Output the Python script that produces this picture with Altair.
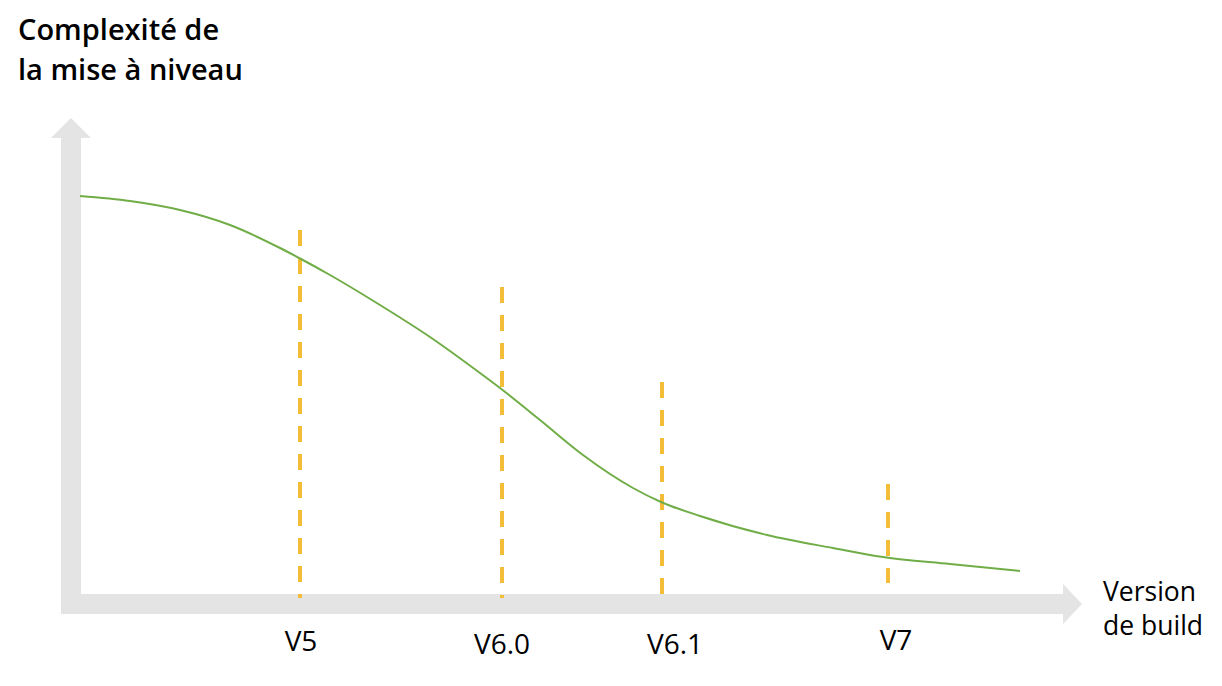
import altair as alt
import pandas as pd

# Conceptual units: u = horizontal position from origin, v = complexity above the axis
curve_u = [9, 59, 109, 159, 209, 230, 259, 309, 359, 409, 429, 469, 512, 562, 590, 629, 696, 762, 812, 879, 949]
curve_v = [408, 403, 394, 379, 356, 345, 329, 299, 267, 231, 216, 184, 149, 116, 102, 88, 69, 56, 47, 40, 33]

versions = ["V5", "V6.0", "V6.1", "V7"]
version_u = [229, 431, 591, 817]
version_top = [374, 317, 222, 120]
version_bottom = [6, 6, 6, 21]
label_u = [230, 431, 604, 825]
label_v = [-39, -42, -42, -38]

y_title = ["Complexité de", "la mise à niveau"]
y_title_v = [564, 524]
x_title = ["Version", "de build"]
x_title_v = [3, -31]

X_DOMAIN = [-63, 1143]
Y_DOMAIN = [-74, 596]
xs = alt.Scale(domain=X_DOMAIN, nice=False, zero=False)
ys = alt.Scale(domain=Y_DOMAIN, nice=False, zero=False)

GRAY = "#e4e4e4"

# axis shafts
shafts = pd.DataFrame({"u": [0, -10], "v": [-10, 0], "u2": [0, 992], "v2": [466, 0]})
shaft = alt.Chart(shafts).mark_rule(color=GRAY, strokeWidth=20, strokeCap="butt").encode(
    x=alt.X("u:Q", scale=xs, axis=None), y=alt.Y("v:Q", scale=ys, axis=None),
    x2="u2:Q", y2="v2:Q")

up_head = pd.DataFrame({"u": [-20, 0, 20], "v": [466, 486, 466], "v2": [466, 466, 466]})
head_up = alt.Chart(up_head).mark_area(color=GRAY, opacity=1, orient="vertical").encode(
    x=alt.X("u:Q", scale=xs, axis=None), y=alt.Y("v:Q", scale=ys, axis=None), y2="v2:Q")

right_head = pd.DataFrame({"v": [-20, 0, 20], "u": [992, 1011, 992], "u2": [992, 992, 992]})
head_right = alt.Chart(right_head).mark_area(color=GRAY, opacity=1, orient="horizontal").encode(
    y=alt.Y("v:Q", scale=ys, axis=None), x=alt.X("u:Q", scale=xs, axis=None), x2="u2:Q")

curve = alt.Chart(pd.DataFrame({"u": curve_u, "v": curve_v})).mark_line(
    color="#70ad47", strokeWidth=2, interpolate="monotone").encode(
    x=alt.X("u:Q", scale=xs, axis=None), y=alt.Y("v:Q", scale=ys, axis=None))

dash_df = pd.DataFrame({"name": versions, "u": version_u, "top": version_top, "bottom": version_bottom})
dashes = alt.Chart(dash_df).mark_rule(color="#f4bd38", strokeWidth=4, strokeDash=[16, 12],
                                      strokeCap="butt").encode(
    x=alt.X("u:Q", scale=xs, axis=None), y=alt.Y("top:Q", scale=ys, axis=None), y2="bottom:Q")

lab_df = pd.DataFrame({"name": versions, "u": label_u, "v": label_v})
labels = alt.Chart(lab_df).mark_text(font="Open Sans", fontSize=28, color="#000000",
                                     align="center", baseline="middle").encode(
    x=alt.X("u:Q", scale=xs, axis=None), y=alt.Y("v:Q", scale=ys, axis=None), text="name:N")

yt = alt.Chart(pd.DataFrame({"t": y_title, "u": [-53, -53], "v": y_title_v})).mark_text(
    font="Open Sans", fontSize=29, fontWeight=600, color="#000000", align="left",
    baseline="alphabetic").encode(
    x=alt.X("u:Q", scale=xs, axis=None), y=alt.Y("v:Q", scale=ys, axis=None), text="t:N")

xt = alt.Chart(pd.DataFrame({"t": x_title, "u": [1032, 1032], "v": x_title_v})).mark_text(
    font="Open Sans", fontSize=26.5, color="#000000", align="left",
    baseline="alphabetic").encode(
    x=alt.X("u:Q", scale=xs, axis=None), y=alt.Y("v:Q", scale=ys, axis=None), text="t:N")

chart = alt.layer(shaft, head_up, head_right, dashes, curve, labels, yt, xt).properties(
    width=1206, height=670, padding=0, autosize=alt.AutoSizeParams(type="none"),
    background="white"
).configure_view(stroke=None, strokeWidth=0)

chart.save("out.html", embed_options={"renderer": "svg", "actions": False})
